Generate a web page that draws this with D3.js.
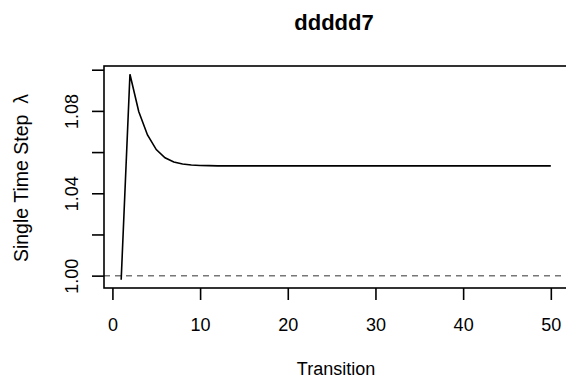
<!DOCTYPE html>
<html>
<head>
<meta charset="utf-8">
<script src="https://cdn.jsdelivr.net/npm/d3@7"></script>
<style>
  body { margin: 0; background: #fff; }
  svg text { font-family: "Liberation Sans", Arial, sans-serif; }
</style>
</head>
<body>
<div id="chart"></div>
<script>
const title = "ddddd7";
const transitions = d3.range(1, 51);
const lambda = [0.998, 1.0978, 1.0797, 1.0683, 1.0612, 1.0572, 1.0552, 1.0542, 1.0537, 1.0535,
  1.0534, 1.0533, 1.0533, 1.0533, 1.0533, 1.0533, 1.0533, 1.0533, 1.0533, 1.0533,
  1.0533, 1.0533, 1.0533, 1.0533, 1.0533, 1.0533, 1.0533, 1.0533, 1.0533, 1.0533,
  1.0533, 1.0533, 1.0533, 1.0533, 1.0533, 1.0533, 1.0533, 1.0533, 1.0533, 1.0533,
  1.0533, 1.0533, 1.0533, 1.0533, 1.0533, 1.0533, 1.0533, 1.0533, 1.0533, 1.0533];
const xTicks = [0, 10, 20, 30, 40, 50];
const yTicks = [1.00, 1.02, 1.04, 1.06, 1.08, 1.10];
const yLabelled = [1.00, 1.04, 1.08];

const width = 566, height = 386;
const margin = {left: 104, right: -2, top: 66, bottom: 98};

const svg = d3.select("#chart").append("svg")
    .attr("width", width)
    .attr("height", height);

const x = d3.scaleLinear()
    .domain([-0.96, 51.96])
    .range([margin.left, width - margin.right]);

const y = d3.scaleLinear()
    .domain([0.994, 1.1018])
    .range([height - margin.bottom, margin.top]);

// reference line at 1
svg.append("line")
    .attr("x1", margin.left).attr("x2", width)
    .attr("y1", y(1)).attr("y2", y(1))
    .attr("stroke", "#777")
    .attr("stroke-width", 1.5)
    .attr("stroke-dasharray", "6,5");

const line = d3.line()
    .x((d, i) => x(transitions[i]))
    .y(d => y(d));

svg.append("path")
    .datum(lambda)
    .attr("fill", "none")
    .attr("stroke", "#000")
    .attr("stroke-width", 1.6)
    .attr("d", line);

// box
svg.append("rect")
    .attr("x", margin.left)
    .attr("y", margin.top)
    .attr("width", width - margin.right - margin.left)
    .attr("height", height - margin.bottom - margin.top)
    .attr("fill", "none")
    .attr("stroke", "#000")
    .attr("stroke-width", 1.6);

// x axis (sits on the box edge, like R)
const xAxis = svg.append("g")
    .attr("transform", `translate(0,${height - margin.bottom})`)
    .call(d3.axisBottom(x).tickValues(xTicks).tickSize(12).tickSizeOuter(0));
xAxis.select(".domain").remove();
xAxis.selectAll(".tick line").attr("stroke-width", 1.6);
xAxis.selectAll(".tick text")
    .attr("font-size", 18)
    .attr("fill", "#000")
    .attr("y", 42.5)
    .attr("dy", 0);

// y axis
const yAxis = svg.append("g")
    .attr("transform", `translate(${margin.left},0)`)
    .call(d3.axisLeft(y).tickValues(yTicks).tickSize(12).tickSizeOuter(0)
        .tickFormat(d => yLabelled.some(v => Math.abs(v - d) < 1e-9) ? d3.format(".2f")(d) : ""));
yAxis.select(".domain").remove();
yAxis.selectAll(".tick line").attr("stroke-width", 1.6);
yAxis.selectAll(".tick text")
    .attr("font-size", 18)
    .attr("fill", "#000")
    .attr("x", 0)
    .attr("y", -26)
    .attr("dy", 0)
    .attr("text-anchor", "middle")
    .attr("transform", "rotate(-90)");

// titles
svg.append("text")
    .attr("x", 334).attr("y", 30)
    .attr("text-anchor", "middle")
    .attr("font-size", 22)
    .attr("font-weight", "bold")
    .text(title);

svg.append("text")
    .attr("x", 336).attr("y", 375)
    .attr("text-anchor", "middle")
    .attr("font-size", 18)
    .text("Transition");

const ylab = svg.append("text")
    .attr("transform", `translate(28,178) rotate(-90)`)
    .attr("text-anchor", "middle")
    .attr("font-size", 19.5);
ylab.append("tspan").text("Single Time Step");
ylab.append("tspan").attr("dx", 11).text("λ");
</script>
</body>
</html>
